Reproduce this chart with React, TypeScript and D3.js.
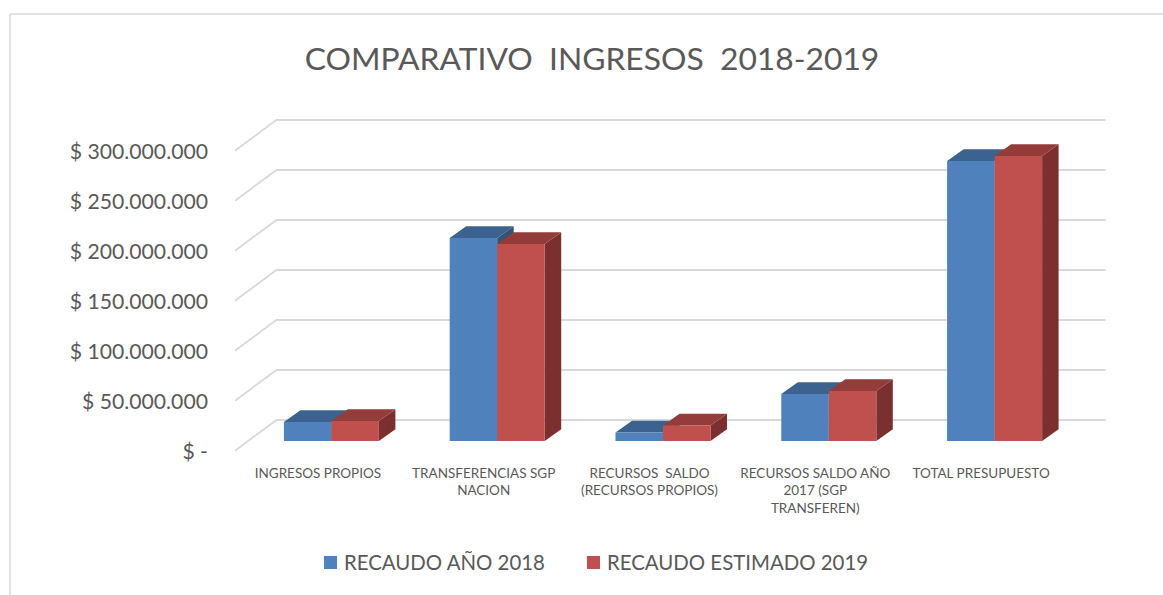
import React from "react";
import * as d3 from "d3";

const categories = [
  ["INGRESOS PROPIOS"],
  ["TRANSFERENCIAS SGP", "NACION"],
  ["RECURSOS  SALDO", "(RECURSOS PROPIOS)"],
  ["RECURSOS SALDO AÑO", "2017 (SGP", "TRANSFEREN)"],
  ["TOTAL PRESUPUESTO"],
];
const seriesNames = ["RECAUDO AÑO 2018", "RECAUDO ESTIMADO 2019"];
const recaudo2018 = [19000000, 203000000, 8500000, 47000000, 280000000];
const estimado2019 = [20000000, 197000000, 15500000, 50000000, 285000000];
const yTicks = [0, 50000000, 100000000, 150000000, 200000000, 250000000, 300000000];
const title = "COMPARATIVO  INGRESOS  2018-2019";

const colors = [
  { front: "#4F81BD", top: "#3C6290", side: "#335377" },
  { front: "#C0504D", top: "#933C3A", side: "#7B302F" },
];

const FONT = "Lato, 'Noto Sans', sans-serif";
const TEXT = "#595959";

export default function App() {
  // geometry
  const front = { x: 235, y: 450.7 };
  const wall = { dx: 41.5, dy: -30.7 };
  const wallW = 829;
  const barPlane = { x: 248.5, y: 441 };
  const depth = { dx: 16.5, dy: -11.7 };

  const y = d3.scaleLinear().domain([0, 300000000]).range([0, 300]);
  const keys = categories.map((c) => c.join(" "));
  const x = d3
    .scaleBand<string>()
    .domain(keys)
    .range([0, wallW])
    .paddingInner(0.427)
    .paddingOuter(0.2135);
  const xs = d3
    .scaleBand<number>()
    .domain([0, 1])
    .range([0, x.bandwidth()])
    .padding(0);

  const locale = d3.formatLocale({
    decimal: ",",
    thousands: ".",
    grouping: [3],
    currency: ["$ ", ""],
  });
  const fmt = (v: number) => (v === 0 ? "$ -" : "$ " + locale.format(",")(v));

  const series = [recaudo2018, estimado2019];

  const bars: JSX.Element[] = [];
  keys.forEach((k, i) => {
    series.forEach((s, si) => {
      const x0 = barPlane.x + (x(k) as number) + (xs(si) as number);
      const w = xs.bandwidth();
      const h = y(s[i]);
      const yb = barPlane.y;
      const yt = yb - h;
      const c = colors[si];
      const side = `M${x0 + w},${yb} L${x0 + w + depth.dx},${yb + depth.dy} L${x0 + w + depth.dx},${yt + depth.dy} L${x0 + w},${yt} Z`;
      const top = `M${x0},${yt} L${x0 + depth.dx},${yt + depth.dy} L${x0 + w + depth.dx},${yt + depth.dy} L${x0 + w},${yt} Z`;
      bars.push(
        <g key={`${i}-${si}`}>
          <path d={side} fill={c.side} />
          <path d={top} fill={c.top} />
          <rect x={x0} y={yt} width={w} height={h} fill={c.front} />
        </g>
      );
    });
  });

  return (
    <svg
      width={1163}
      height={595}
      style={{ position: "absolute", left: 0, top: 0, background: "#fff" }}
    >
      <rect x={10} y={14} width={1300} height={700} fill="#fff" stroke="#d9d9d9" strokeWidth={1.5} />
      <text
        x={592}
        y={70}
        textAnchor="middle"
        fontFamily={FONT}
        fontSize={31.8}
        fill={TEXT}
        style={{ whiteSpace: "pre" }}
      >
        {title}
      </text>
      {/* gridlines */}
      <g stroke="#d9d9d9" strokeWidth={1.8} fill="none">
        {yTicks.map((t) => {
          const yf = front.y - y(t);
          const yw = yf + wall.dy;
          const xw = front.x + wall.dx;
          return (
            <path key={t} d={`M${front.x},${yf} L${xw},${yw} L${xw + wallW},${yw}`} />
          );
        })}
      </g>
      {/* y tick labels */}
      <g fontFamily={FONT} fontSize={21.2} fill={TEXT} textAnchor="end">
        {yTicks.map((t) => (
          <text key={t} x={208} y={front.y - y(t) + 8.5} style={{ whiteSpace: "pre" }}>
            {fmt(t)}
          </text>
        ))}
      </g>
      {bars}
      {/* category labels */}
      <g fontFamily={FONT} fontSize={13.5} fill={TEXT} textAnchor="middle">
        {categories.map((lines, i) => (
          <text key={i} x={front.x + (x(keys[i]) as number) + x.bandwidth() / 2} y={477.5} style={{ whiteSpace: "pre" }}>
            {lines.map((l, li) => (
              <tspan key={li} x={front.x + (x(keys[i]) as number) + x.bandwidth() / 2} dy={li === 0 ? 0 : 17.5}>
                {l}
              </tspan>
            ))}
          </text>
        ))}
      </g>
      {/* legend */}
      <g fontFamily={FONT} fontSize={20.4} fill={TEXT}>
        <rect x={324} y={556} width={13} height={13} fill={colors[0].front} />
        <text x={344} y={570}>{seriesNames[0]}</text>
        <rect x={587} y={556} width={13} height={13} fill={colors[1].front} />
        <text x={607} y={570}>{seriesNames[1]}</text>
      </g>
    </svg>
  );
}
